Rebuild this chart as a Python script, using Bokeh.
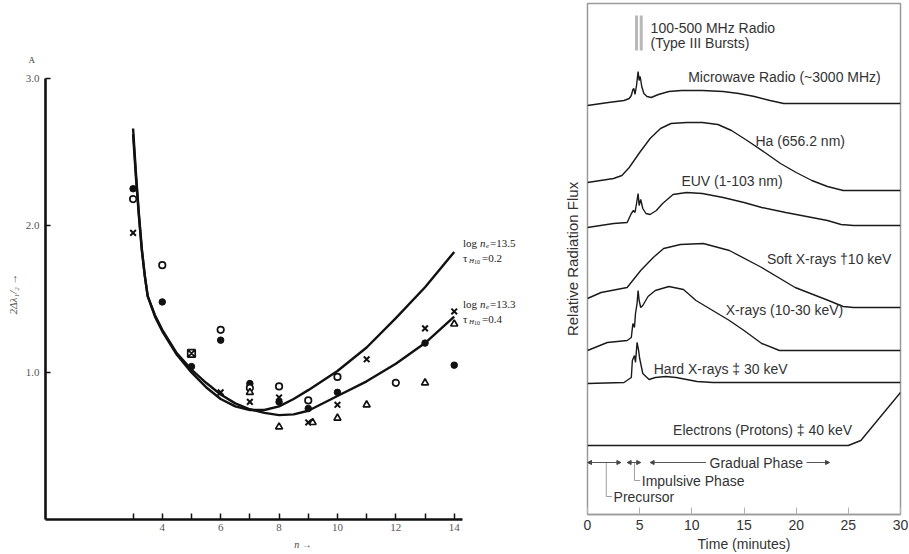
from bokeh.plotting import figure
from bokeh.layouts import row
from bokeh.models import FixedTicker, Arrow, NormalHead, Range1d
from bokeh.core.properties import value
from bokeh.embed import file_html
from bokeh.resources import INLINE

# ---------------- Panel A: line width 2Δλ1/2 against upper level n ----------------
n_model = [3.0, 3.1, 3.2, 3.3, 3.4, 3.5, 3.75, 4.0, 4.5, 5.0, 5.5, 6.0, 6.5, 7.0,
           7.5, 8.0, 8.5, 9.0, 10.0, 11.0, 12.0, 13.0, 14.0]
width_ne135 = [2.66, 2.35, 2.08, 1.84, 1.66, 1.52, 1.38, 1.28, 1.12, 1.00, 0.90, 0.82,
               0.77, 0.745, 0.745, 0.77, 0.82, 0.88, 1.01, 1.17, 1.37, 1.58, 1.82]
width_ne133 = [2.62, 2.32, 2.06, 1.83, 1.66, 1.52, 1.39, 1.29, 1.13, 1.02, 0.93, 0.85,
               0.79, 0.75, 0.725, 0.71, 0.715, 0.74, 0.84, 0.94, 1.06, 1.20, 1.38]

dot_n = [3, 4, 5, 6, 7, 8, 9, 10, 13, 14]
dot_w = [2.25, 1.48, 1.04, 1.22, 0.925, 0.80, 0.755, 0.865, 1.20, 1.05]
ring_n = [3, 4, 6, 7, 8, 9, 10, 12]
ring_w = [2.18, 1.73, 1.29, 0.895, 0.905, 0.81, 0.97, 0.93]
cross_n = [3, 6, 7, 8, 9, 10, 11, 13, 14]
cross_w = [1.95, 0.865, 0.80, 0.83, 0.66, 0.78, 1.09, 1.30, 1.415]
tri_n = [7, 8, 9.15, 10, 11, 13, 14]
tri_w = [0.865, 0.63, 0.66, 0.69, 0.78, 0.93, 1.33]
box_n = [5]
box_w = [1.13]

n_ticks = [3, 4, 5, 6, 7, 8, 9, 10, 11, 12, 13, 14]
w_ticks = [1, 2, 3]
w_tick_labels = ["1.0", "2.0", "3.0"]

model_log_ne = ["13.5", "13.3"]
model_tau = ["0.2", "0.4"]
model_label_w = [1.884, 1.469]

SERIF = value("Liberation Serif")
INK = "#111111"

pa = figure(width=560, height=554, x_range=Range1d(0, 17.64), y_range=Range1d(0, 3.068),
            output_backend="svg", toolbar_location=None, title="A",
            min_border_left=45, min_border_right=0, min_border_top=68, min_border_bottom=35)
pa.frame_align = False
pa.outline_line_color = None
pa.xgrid.grid_line_color = None
pa.ygrid.grid_line_color = None

# panel letter
pa.title.align = "left"
pa.title.offset = -17
pa.title.standoff = 8
pa.title.text_font = "Liberation Serif"
pa.title.text_font_size = "9px"
pa.title.text_font_style = "normal"
pa.title.text_color = "#333333"

xa = pa.xaxis[0]
xa.ticker = FixedTicker(ticks=n_ticks)
xa.major_label_overrides = {t: (str(t) if t % 2 == 0 else "") for t in n_ticks}
xa.bounds = (0, 14.3)
xa.axis_line_width = 2.6
xa.axis_line_color = INK
xa.major_tick_in = 6
xa.major_tick_out = 0
xa.major_tick_line_width = 1.5
xa.major_tick_line_color = INK
xa.minor_tick_line_color = None
xa.major_label_text_font = "Liberation Serif"
xa.major_label_text_font_size = "11px"
xa.major_label_text_color = "#555555"
xa.major_label_standoff = 4
xa.axis_label = "n →"
xa.axis_label_text_font = "Liberation Serif"
xa.axis_label_text_font_size = "10px"
xa.axis_label_text_font_style = "italic"
xa.axis_label_text_color = "#444444"
xa.axis_label_standoff = 5

ya = pa.yaxis[0]
ya.ticker = FixedTicker(ticks=w_ticks)
ya.major_label_overrides = dict(zip(w_ticks, w_tick_labels))
ya.bounds = (0, 3.0)
ya.axis_line_width = 2.6
ya.axis_line_color = INK
ya.major_tick_in = 5
ya.major_tick_out = 0
ya.major_tick_line_width = 1.5
ya.major_tick_line_color = INK
ya.minor_tick_line_color = None
ya.major_label_text_font = "Liberation Serif"
ya.major_label_text_font_size = "11px"
ya.major_label_text_color = "#555555"
ya.major_label_standoff = 6
ya.axis_label = "2Δλ₁/₂ →"
ya.axis_label_text_font = "Liberation Serif"
ya.axis_label_text_font_size = "11px"
ya.axis_label_text_font_style = "italic"
ya.axis_label_text_color = "#555555"
ya.axis_label_standoff = 4

# model curves
pa.line(n_model, width_ne135, line_width=2.4, line_color=INK)
pa.line(n_model, width_ne133, line_width=2.4, line_color=INK)

# observed widths
pa.scatter(dot_n, dot_w, marker="circle", size=6.5, fill_color=INK, line_color=INK)
pa.scatter(ring_n, ring_w, marker="circle", size=6.5, fill_color="white", line_color=INK, line_width=1.7)
pa.scatter(cross_n, cross_w, marker="x", size=8, line_color=INK, line_width=2.0)
pa.scatter(tri_n, tri_w, marker="triangle", size=7, fill_color="white", line_color=INK, line_width=1.7)
pa.scatter(box_n, box_w, marker="square_x", size=7.5, fill_color="white", line_color=INK, line_width=1.7)

# curve captions: log n_e = ..., tau_H10 = ...
lab_x = [14.3] * len(model_label_w)
tau_w = [w - 0.105 for w in model_label_w]
common = dict(text_font=SERIF, text_baseline="middle", text_align="left", text_color="#222222")
pa.text(lab_x, model_label_w, text=["log"] * 2, text_font_size="11px", **common)
pa.text(lab_x, model_label_w, text=["n"] * 2, text_font_size="11px", text_font_style="italic",
        x_offset=17, **common)
pa.text(lab_x, model_label_w, text=["e"] * 2, text_font_size="7px", text_font_style="italic",
        x_offset=23, y_offset=3, **common)
pa.text(lab_x, model_label_w, text=["=" + v for v in model_log_ne], text_font_size="11px",
        x_offset=27, **common)
pa.text(lab_x, tau_w, text=["τ"] * 2, text_font_size="11px", **common)
pa.text(lab_x, tau_w, text=["H"] * 2, text_font_size="7px", text_font_style="italic",
        x_offset=6, y_offset=3, **common)
pa.text(lab_x, tau_w, text=["10"] * 2, text_font_size="6px", x_offset=11, y_offset=4, **common)
pa.text(lab_x, tau_w, text=["=" + v for v in model_tau], text_font_size="11px",
        x_offset=19, **common)

# ---------------- Panel B: flare emission time profiles ----------------
lane_names = ["Microwave Radio (~3000 MHz)", "Ha (656.2 nm)", "EUV (1-103 nm)",
              "Soft X-rays †10 keV", "X-rays (10-30 keV)", "Hard X-rays ‡ 30 keV",
              "Electrons (Protons) ‡ 40 keV"]
lane_base = [409, 332, 287, 216, 164, 131, 69]

t_mw = [0, 2, 3.5, 4.0, 4.2, 4.35, 4.45, 4.55, 4.7, 4.85, 4.95, 5.05, 5.2, 5.4, 5.7, 6.1,
        6.8, 7.8, 9, 11, 13, 14.5, 16, 17.5, 18.8, 20, 30]
f_mw = [0, 3, 5, 7, 10, 16, 17, 11, 20, 34, 25, 29, 19, 12, 9, 8,
        11, 14, 15, 15, 14, 12, 9, 5, 2, 2, 2]

t_ha = [0, 2.5, 3.3, 4, 5, 6, 7, 8, 9.5, 11, 12.5, 13.8, 15.3, 17, 18.5, 20, 21.5, 23, 24.5, 30]
f_ha = [0, 4, 7, 15, 30, 44, 54, 59, 60, 60, 58, 52, 42, 30, 19, 10, 2, -4, -8, -8]

t_euv = [0, 2.5, 3.8, 4.2, 4.4, 4.55, 4.7, 4.85, 4.95, 5.1, 5.3, 5.6, 6.0, 6.6, 7.2, 8.2,
         9.5, 11, 13, 15, 16.7, 19, 21, 23, 24.3, 25.5, 30]
f_euv = [0, 4, 5, 14, 17, 15, 24, 34, 22, 28, 19, 14, 13, 17, 24, 33,
         35, 34, 30, 25, 20, 15, 11, 7, 3, 2, 2]

t_sxr = [0, 1.3, 3.8, 5.1, 6.3, 7.3, 8.9, 11.1, 13.6, 16.7, 19.9, 23.1, 24.5, 25.5, 30]
f_sxr = [0, 6, 11, 28, 41, 50, 54, 55, 48, 31, 11, -2, -8, -9, -9]

t_xr = [0, 1.9, 3.8, 4.2, 4.35, 4.5, 4.6, 4.75, 4.85, 4.95, 5.1, 5.3, 5.8, 6.5, 7.8, 9.2,
        10.4, 12, 13.6, 15, 16.7, 18.4, 30]
f_xr = [0, 8, 10, 13, 27, 23, 37, 47, 60, 50, 43, 45, 54, 60, 64, 61,
        50, 40, 30, 20, 7, 0, 0]

t_hxr = [0, 3.5, 4.2, 4.3, 4.5, 4.6, 4.75, 4.9, 5.0, 5.3, 5.9, 6.5, 7.5, 8.5, 9.5, 10.5, 12, 30]
f_hxr = [0, 1, 6, 23, 28, 21, 41, 33, 25, 10, 4, 6, 7, 6, 4, 2, 1, 1]

t_el = [0, 25, 26.2, 30]
f_el = [0, 0, 5, 53]

lane_t = [t_mw, t_ha, t_euv, t_sxr, t_xr, t_hxr, t_el]
lane_f = [f_mw, f_ha, f_euv, f_sxr, f_xr, f_hxr, f_el]

# caption anchors (time, height) for each lane
lane_label_t = [9.65, 16.1, 9.0, 17.2, 13.25, 6.35, 8.2]
lane_label_y = [438, 374, 334, 256, 205, 146, 85]

type3_t = [4.7, 5.15]
type3_span = (464, 499)

# phases: (start, end) in minutes
phase_names = ["Precursor", "Impulsive Phase", "Gradual Phase"]
phase_start = [0.0, 3.8, 6.0]
phase_end = [3.2, 5.1, 23.2]
phase_row = 52
gradual_gap = (11.35, 21.0)
phase_leader_t = [1.8, 4.5]
phase_leader_y = [18, 34]

time_ticks = [0, 5, 10, 15, 20, 25, 30]

SANS = "Liberation Sans"
GREY_TXT = "#333333"

pb = figure(width=349, height=554, x_range=Range1d(0, 30), y_range=Range1d(0, 511),
            output_backend="svg", toolbar_location=None,
            min_border_left=23, min_border_right=9, min_border_top=3, min_border_bottom=40)
pb.frame_align = False
pb.outline_line_color = "#9a9a9a"
pb.outline_line_width = 1.5
pb.xgrid.grid_line_color = None
pb.ygrid.grid_line_color = None

xb = pb.xaxis[0]
xb.ticker = FixedTicker(ticks=time_ticks)
xb.axis_line_color = "#9a9a9a"
xb.axis_line_width = 1.5
xb.major_tick_in = 7
xb.major_tick_out = 0
xb.major_tick_line_color = "#b0b0b0"
xb.minor_tick_line_color = None
xb.major_label_text_font = SANS
xb.major_label_text_font_size = "14px"
xb.major_label_text_color = GREY_TXT
xb.major_label_standoff = 5
xb.axis_label = "Time (minutes)"
xb.axis_label_text_font = SANS
xb.axis_label_text_font_size = "14px"
xb.axis_label_text_font_style = "normal"
xb.axis_label_text_color = GREY_TXT
xb.axis_label_standoff = 3

yb = pb.yaxis[0]
yb.ticker = FixedTicker(ticks=[])
yb.axis_line_color = None
yb.major_tick_line_color = None
yb.minor_tick_line_color = None
yb.axis_label = "Relative Radiation Flux"
yb.axis_label_text_font = SANS
yb.axis_label_text_font_size = "15px"
yb.axis_label_text_font_style = "normal"
yb.axis_label_text_color = GREY_TXT
yb.axis_label_standoff = 7

for base, ts, fs in zip(lane_base, lane_t, lane_f):
    pb.line(ts, [base + f for f in fs], line_width=1.4, line_color="#1a1a1a")

pb.text(lane_label_t, lane_label_y, text=lane_names, text_font=value(SANS),
        text_font_size="14px", text_color=GREY_TXT, text_baseline="middle", text_align="left")

# Type III burst bars and caption
pb.segment(x0=type3_t, y0=[type3_span[0]] * 2, x1=type3_t, y1=[type3_span[1]] * 2,
           line_width=3, line_color="#b8b8b8")
pb.text([6.05, 6.05], [487, 472], text=["100-500  MHz Radio", "(Type III Bursts)"],
        text_font=value(SANS), text_font_size="14px", text_color=GREY_TXT,
        text_baseline="middle", text_align="left")

# phase arrows
def head():
    return NormalHead(size=4, line_color="#444444", fill_color="#444444", line_width=1)

for s, e in zip(phase_start[:2], phase_end[:2]):
    pb.add_layout(Arrow(start=head(), end=head(), x_start=s, y_start=phase_row,
                        x_end=e, y_end=phase_row, line_color="#555555", line_width=1))
pb.add_layout(Arrow(start=head(), end=None, x_start=phase_start[2], y_start=phase_row,
                    x_end=gradual_gap[0], y_end=phase_row, line_color="#555555", line_width=1))
pb.add_layout(Arrow(start=None, end=head(), x_start=gradual_gap[1], y_start=phase_row,
                    x_end=phase_end[2], y_end=phase_row, line_color="#555555", line_width=1))
pb.text([11.7], [phase_row], text=[phase_names[2]], text_font=value(SANS), text_font_size="14px",
        text_color=GREY_TXT, text_baseline="middle", text_align="left")

# leader lines to the precursor / impulsive captions
for lt, ly, name in zip(phase_leader_t, phase_leader_y, phase_names[:2]):
    pb.line([lt, lt, lt + 0.55], [phase_row, ly, ly], line_color="#a0a0a0", line_width=1)
    pb.text([lt + 0.7], [ly], text=[name], text_font=value(SANS), text_font_size="14px",
            text_color=GREY_TXT, text_baseline="middle", text_align="left")

layout = row(pa, pb)
open("out.html", "w").write(file_html(layout, INLINE))
